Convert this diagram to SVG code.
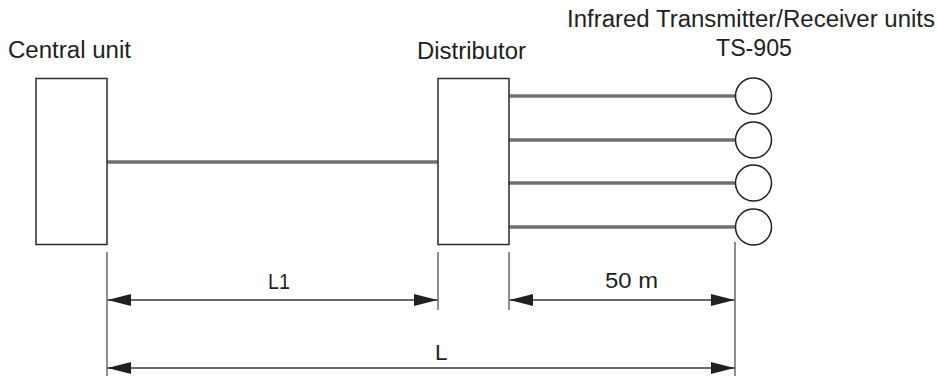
<svg xmlns="http://www.w3.org/2000/svg" width="938" height="376" viewBox="0 0 938 376">
  <style>
    .lbl { font-family: "Liberation Sans", Arial, Helvetica, sans-serif; font-size: 23px; fill: #231f20; }
    .dim-lbl { font-family: "Liberation Sans", Arial, Helvetica, sans-serif; font-size: 22px; fill: #231f20; }
    .box { fill: #ffffff; stroke: #2b2b2b; stroke-width: 1.5; }
    .unit { fill: #ffffff; stroke: #231f20; stroke-width: 1.5; }
    .cable { stroke: #707070; stroke-width: 3.5; fill: none; }
    .ext { stroke: #6a6a6a; stroke-width: 1.5; fill: none; }
    .dim { stroke: #3a3a3a; stroke-width: 1.5; fill: none; marker-start: url(#arr); marker-end: url(#arr); }
  </style>
  <defs>
    <marker id="arr" markerUnits="userSpaceOnUse" markerWidth="24" markerHeight="13" viewBox="0 0 24 13" refX="23.5" refY="6.5" orient="auto-start-reverse">
      <path d="M0,0.5 L23.5,6.5 L0,12.5 z" fill="#231f20"/>
    </marker>
  </defs>

  <rect width="938" height="376" fill="#ffffff"/>

  <g id="connectors">
    <line class="cable" x1="107" y1="162" x2="438" y2="162"/>
    <line class="cable" x1="509" y1="96" x2="735" y2="96"/>
    <line class="cable" x1="509" y1="140" x2="735" y2="140"/>
    <line class="cable" x1="509" y1="183" x2="735" y2="183"/>
    <line class="cable" x1="509" y1="227" x2="735" y2="227"/>
  </g>

  <g id="central-unit">
    <rect class="box" x="36" y="78.5" width="71" height="166"/>
    <text class="lbl" x="8" y="58" textLength="123" lengthAdjust="spacingAndGlyphs">Central unit</text>
  </g>

  <g id="distributor">
    <rect class="box" x="438" y="78.5" width="71" height="166"/>
    <text class="lbl" x="417" y="59" textLength="109" lengthAdjust="spacingAndGlyphs">Distributor</text>
  </g>

  <g id="ir-units">
    <text class="lbl" x="567" y="27" textLength="368" lengthAdjust="spacingAndGlyphs">Infrared Transmitter/Receiver units</text>
    <text class="lbl" x="716" y="56" textLength="76" lengthAdjust="spacingAndGlyphs">TS-905</text>
    <g id="ir-1"><circle class="unit" cx="753.5" cy="96" r="18"/></g>
    <g id="ir-2"><circle class="unit" cx="753.5" cy="140" r="18"/></g>
    <g id="ir-3"><circle class="unit" cx="753.5" cy="183" r="18"/></g>
    <g id="ir-4"><circle class="unit" cx="753.5" cy="227" r="18"/></g>
  </g>

  <g id="dimensions">
    <line class="ext" x1="107" y1="252" x2="107" y2="376"/>
    <line class="ext" x1="438" y1="252" x2="438" y2="310"/>
    <line class="ext" x1="509" y1="252" x2="509" y2="310"/>
    <line class="ext" x1="735" y1="242" x2="735" y2="376"/>
    <line class="dim" x1="107.5" y1="300" x2="437.5" y2="300"/>
    <line class="dim" x1="509.5" y1="300" x2="734.5" y2="300"/>
    <line class="dim" x1="107.5" y1="368" x2="734.5" y2="368"/>
    <text class="dim-lbl" x="268" y="289" textLength="22" lengthAdjust="spacingAndGlyphs">L1</text>
    <text class="dim-lbl" x="605" y="288" textLength="53" lengthAdjust="spacingAndGlyphs">50 m</text>
    <text class="dim-lbl" x="435" y="360" textLength="12.5" lengthAdjust="spacingAndGlyphs">L</text>
  </g>
</svg>
